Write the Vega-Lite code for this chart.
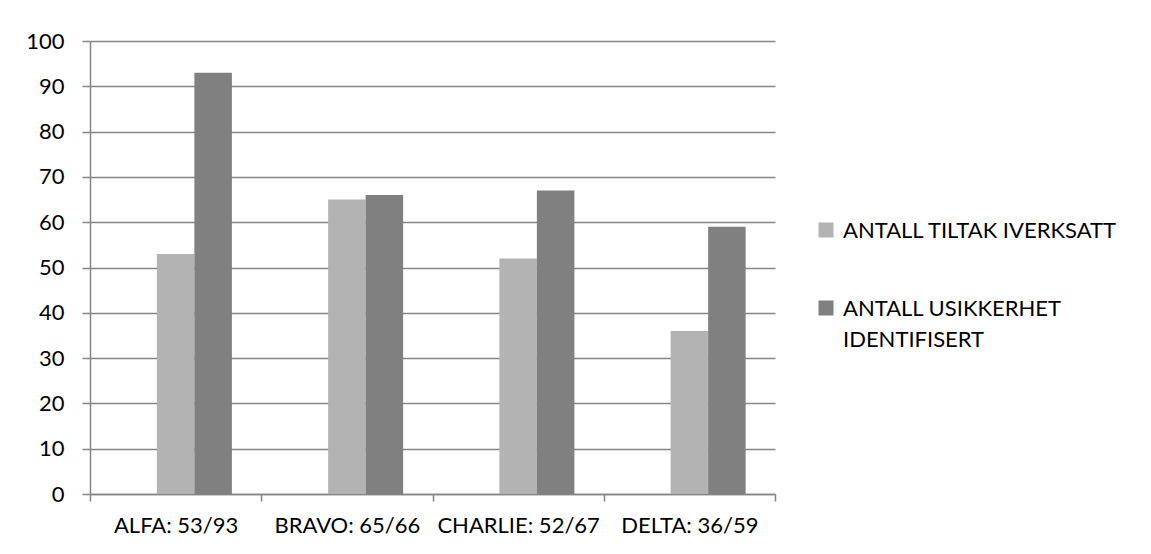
{
  "$schema": "https://vega.github.io/schema/vega-lite/v6.json",
  "width": 685,
  "height": 453,
  "autosize": "none",
  "padding": {"left": 90, "top": 41, "right": 376, "bottom": 60},
  "background": "white",
  "config": {"view": {"stroke": null}, "font": "Lato"},
  "data": {
    "values": [
      {"cat": "ALFA: 53/93", "series": "ANTALL TILTAK IVERKSATT", "value": 53},
      {"cat": "ALFA: 53/93", "series": "ANTALL USIKKERHET IDENTIFISERT", "value": 93},
      {"cat": "BRAVO: 65/66", "series": "ANTALL TILTAK IVERKSATT", "value": 65},
      {"cat": "BRAVO: 65/66", "series": "ANTALL USIKKERHET IDENTIFISERT", "value": 66},
      {"cat": "CHARLIE: 52/67", "series": "ANTALL TILTAK IVERKSATT", "value": 52},
      {"cat": "CHARLIE: 52/67", "series": "ANTALL USIKKERHET IDENTIFISERT", "value": 67},
      {"cat": "DELTA: 36/59", "series": "ANTALL TILTAK IVERKSATT", "value": 36},
      {"cat": "DELTA: 36/59", "series": "ANTALL USIKKERHET IDENTIFISERT", "value": 59}
    ]
  },
  "mark": {"type": "bar"},
  "encoding": {
    "x": {
      "field": "cat",
      "type": "nominal",
      "sort": null,
      "scale": {"paddingInner": 0, "paddingOuter": 0},
      "axis": {
        "title": null,
        "labelAngle": 0,
        "tickBand": "extent",
        "tickSize": 7,
        "tickWidth": 1.5,
        "domainColor": "#868686",
        "domainWidth": 1.5,
        "tickColor": "#868686",
        "labelFontSize": 22,
        "labelColor": "black",
        "labelPadding": 14
      }
    },
    "xOffset": {
      "field": "series",
      "scale": {
        "domain": ["", "ANTALL TILTAK IVERKSATT", "ANTALL USIKKERHET IDENTIFISERT"],
        "paddingInner": 0,
        "paddingOuter": 0.783
      }
    },
    "y": {
      "field": "value",
      "type": "quantitative",
      "scale": {"domain": [0, 100], "nice": false},
      "axis": {
        "title": null,
        "values": [0, 10, 20, 30, 40, 50, 60, 70, 80, 90, 100],
        "grid": true,
        "gridColor": "#868686",
        "gridWidth": 1.5,
        "domainColor": "#868686",
        "domainWidth": 1.5,
        "tickColor": "#868686",
        "tickWidth": 1.5,
        "tickSize": 8,
        "labelFontSize": 22,
        "labelColor": "black",
        "labelPadding": 18
      }
    },
    "color": {
      "field": "series",
      "type": "nominal",
      "scale": {
        "domain": ["ANTALL TILTAK IVERKSATT", "ANTALL USIKKERHET IDENTIFISERT"],
        "range": ["#b3b3b3", "#808080"]
      },
      "legend": {
        "title": null,
        "orient": "none",
        "legendX": 725,
        "legendY": 178,
        "symbolType": "square",
        "symbolSize": 225,
        "symbolStrokeWidth": 0,
        "labelFontSize": 22,
        "labelColor": "black",
        "labelOffset": 6,
        "labelLimit": 400,
        "rowPadding": 55,
        "labelBaseline": "middle",
        "labelExpr": "datum.label == 'ANTALL USIKKERHET IDENTIFISERT' ? ['ANTALL USIKKERHET', 'IDENTIFISERT'] : datum.label",
        "encode": {
          "labels": {
            "update": {
              "baseline": {"value": "alphabetic"},
              "dy": {"value": 8},
              "lineHeight": {"value": 31}
            }
          }
        }
      }
    }
  }
}
